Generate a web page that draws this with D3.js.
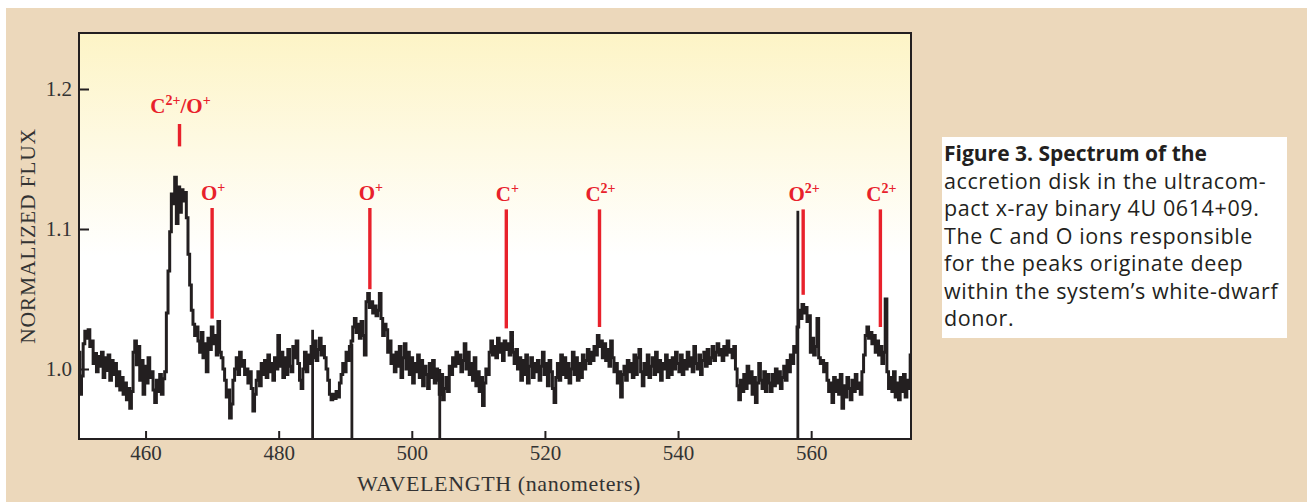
<!DOCTYPE html>
<html>
<head>
<meta charset="utf-8">
<script src="https://cdn.jsdelivr.net/npm/d3@7.9.0/dist/d3.min.js"></script>
<style>
  html, body { margin: 0; padding: 0; background: #fff; }
  svg { display: block; }
</style>
</head>
<body>
<svg id="chart" width="1307" height="502"></svg>
<script>
// spectrum sampled every 0.25 nm starting at 450 nm
const wlStart = 450;
const wlStep = 0.25;
const flux = [
  1.012, 0.982, 0.995, 1.018,  1.027, 1.022, 1.028, 1.016,  1.020, 1.004, 1.011, 0.998,
  1.009, 1.002, 1.012, 0.994,  1.008, 0.999, 1.010, 0.992,  1.006, 0.996, 1.004, 0.988,
  0.998, 0.985, 0.994, 0.982,  0.990, 0.978, 0.986, 0.972,  0.984, 1.012, 1.020, 1.003,
  1.016, 0.992, 1.006, 0.982,  1.002, 0.990, 1.008, 0.994,  0.998, 0.985, 0.976, 0.992,
  0.984, 0.996, 0.982, 0.993,  0.998, 1.040, 1.070, 1.098,  1.125, 1.118, 1.137, 1.104,
  1.130, 1.112, 1.128, 1.120,  1.126, 1.108, 1.082, 1.060,  1.042, 1.032, 1.024, 1.030,
  1.020, 1.012, 1.026, 1.008,  1.018, 0.998, 1.022, 1.014,  1.030, 1.018, 1.024, 1.010,
  1.034, 1.012, 1.008, 1.000,  0.992, 0.980, 0.985, 0.965,  0.975, 0.992, 1.000, 1.008,
  0.996, 1.012, 1.002, 1.006,  0.996, 1.000, 0.990, 0.998,  0.986, 0.970, 0.982, 0.992,
  0.998, 0.988, 1.004, 0.996,  1.006, 0.994, 1.010, 0.998,  1.004, 0.992, 1.008, 1.000,
  1.024, 1.002, 1.012, 0.994,  1.008, 0.996, 1.014, 1.002,  0.998, 1.016, 1.008, 1.020,
  1.004, 0.992, 0.986, 1.000,  1.012, 0.998, 1.010, 1.004,  1.016, 1.008, 1.020, 1.006,
  1.014, 1.022, 1.010, 1.016,  1.008, 1.000, 0.992, 0.982,  0.978, 0.982, 0.979, 0.984,
  0.980, 0.990, 0.996, 1.004,  0.998, 1.012, 1.006, 1.016,  1.020, 1.030, 1.036, 1.026,
  1.032, 1.022, 1.034, 1.024,  1.010, 1.048, 1.054, 1.044,  1.048, 1.040, 1.045, 1.038,
  1.042, 1.054, 1.036, 1.024,  1.032, 1.028, 1.012, 1.020,  1.004, 1.010, 0.998, 1.012,
  1.002, 1.016, 0.994, 1.008,  1.018, 1.000, 1.012, 0.996,  1.008, 0.990, 1.004, 0.998,
  1.010, 0.994, 1.006, 0.988,  1.002, 0.996, 0.986, 1.004,  0.994, 1.006, 0.990, 1.000,
  0.992, 0.982, 0.996, 0.978,  0.986, 0.994, 0.984, 1.002,  0.996, 1.008, 1.002, 1.012,
  1.004, 1.010, 0.998, 1.006,  1.018, 1.000, 1.012, 0.996,  1.004, 0.992, 1.008, 0.988,
  0.998, 0.984, 0.994, 0.974,  0.990, 1.000, 0.996, 1.012,  1.020, 1.010, 1.016, 1.008,
  1.022, 1.012, 1.018, 1.006,  1.020, 1.014, 1.018, 1.010,  1.026, 1.012, 1.004, 1.014,
  1.000, 1.008, 0.992, 1.006,  0.996, 1.010, 0.990, 1.002,  1.008, 0.994, 1.004, 0.998,
  1.006, 0.992, 1.002, 1.012,  0.996, 1.004, 0.988, 1.006,  0.998, 0.986, 0.976, 0.994,
  1.004, 0.992, 1.010, 0.996,  1.008, 0.994, 1.004, 0.990,  1.000, 1.012, 0.996, 1.008,
  0.992, 1.004, 0.994, 1.010,  1.000, 1.006, 1.014, 1.004,  1.012, 1.006, 1.016, 1.010,
  1.024, 1.016, 1.020, 1.008,  1.018, 1.006, 1.014, 1.002,  1.020, 1.008, 0.998, 1.004,
  0.990, 0.998, 0.980, 0.996,  1.002, 0.992, 1.006, 0.998,  1.004, 0.994, 1.010, 0.996,
  1.008, 1.014, 0.998, 0.988,  1.004, 0.996, 1.010, 0.994,  1.002, 1.008, 0.996, 1.012,
  0.998, 1.006, 0.992, 1.004,  1.000, 1.010, 0.994, 1.006,  0.996, 1.008, 1.000, 1.012,
  1.004, 0.998, 1.010, 0.996,  1.006, 1.000, 1.012, 1.002,  1.008, 0.998, 1.016, 1.004,
  1.000, 1.010, 0.996, 1.006,  1.012, 1.002, 1.014, 1.004,  1.008, 1.016, 1.006, 1.012,
  1.018, 1.010, 1.014, 1.006,  1.016, 1.010, 1.020, 1.012,  1.014, 1.008, 1.016, 1.000,
  0.988, 0.978, 0.992, 0.984,  0.996, 0.986, 1.002, 0.990,  0.998, 0.982, 0.994, 0.976,
  0.990, 1.004, 0.992, 0.986,  0.998, 0.984, 0.996, 0.990,  0.984, 0.996, 0.988, 1.000,
  0.990, 0.998, 0.986, 0.994,  1.002, 0.992, 1.006, 0.998,  1.010, 1.004, 1.016, 1.012,
  1.030, 1.042, 1.036, 1.046,  1.040, 1.044, 1.034, 1.038,  1.012, 1.022, 1.010, 1.016,
  1.036, 1.008, 1.004, 1.006,  0.998, 1.004, 0.992, 0.984,  0.990, 0.976, 0.994, 0.984,
  0.992, 0.982, 0.996, 0.972,  0.988, 0.980, 0.994, 0.986,  0.978, 0.992, 0.984, 0.996,
  0.986, 0.990, 0.982, 0.998,  1.010, 1.024, 1.030, 1.022,  1.026, 1.018, 1.024, 1.012,
  1.020, 1.010, 1.016, 1.004,  1.012, 1.050, 0.998, 0.986,  0.994, 0.984, 0.998, 0.980,
  0.990, 0.978, 0.994, 0.984,  0.996, 0.980, 0.992, 0.986,  1.010
];

// narrow spikes that run down off the bottom of the plot
const spikeWl = [485.1, 491.0, 504.2, 558.0];
const spikeTop = [1.028, 1.018, 1.000, 1.113];

// ion markers
const ionLabels = ['C{2+}/O{+}', 'O{+}', 'O{+}', 'C{+}', 'C{2+}', 'O{2+}', 'C{2+}'];
const ionWl = [465.1, 470.0, 493.7, 514.2, 528.2, 558.8, 570.4];
const ionTop = [1.175, 1.115, 1.115, 1.114, 1.114, 1.114, 1.114];
const ionBottom = [1.159, 1.036, 1.057, 1.029, 1.030, 1.053, 1.030];

const xTicks = [460, 480, 500, 520, 540, 560];
const yTicks = [1.0, 1.1, 1.2];

const captionLines = [
  'Figure 3. Spectrum of the',
  'accretion disk in the ultracom-',
  'pact x-ray binary 4U 0614+09.',
  'The C and O ions responsible',
  'for the peaks originate deep',
  'within the system\u2019s white-dwarf',
  'donor.'
];

const svg = d3.select('#chart');
const ink = '#231f20';
const red = '#e8212b';
const serif = '"Liberation Serif", "Times New Roman", serif';

// page background
svg.append('rect').attr('x', 6).attr('y', 8).attr('width', 1301).attr('height', 494).attr('fill', '#ecd8bb');

const pL = 79, pR = 911, pT = 33, pB = 439;
const x = d3.scaleLinear().domain([450, 575]).range([pL, pR]);
const y = d3.scaleLinear().domain([0.95, 1.24]).range([pB, pT]);

const defs = svg.append('defs');
const grad = defs.append('linearGradient').attr('id', 'bg').attr('x1', 0).attr('y1', 0).attr('x2', 0).attr('y2', 1);
grad.append('stop').attr('offset', '0%').attr('stop-color', '#fdf4c6');
grad.append('stop').attr('offset', '55%').attr('stop-color', '#ffffff');
grad.append('stop').attr('offset', '100%').attr('stop-color', '#ffffff');
defs.append('clipPath').attr('id', 'clip')
  .append('rect').attr('x', pL).attr('y', pT).attr('width', pR - pL).attr('height', pB - pT);

svg.append('rect').attr('x', pL).attr('y', pT).attr('width', pR - pL).attr('height', pB - pT)
  .attr('fill', 'url(#bg)');

const plot = svg.append('g').attr('clip-path', 'url(#clip)');

const spectrum = flux.map((f, i) => ({ wl: wlStart + i * wlStep, f }));
const line = d3.line().x(d => x(d.wl)).y(d => y(d.f)).curve(d3.curveStep);

plot.append('path').datum(spectrum)
  .attr('d', line)
  .attr('fill', 'none')
  .attr('stroke', ink)
  .attr('stroke-width', 3)
  .attr('stroke-linejoin', 'miter');

plot.selectAll('.spike').data(spikeWl).join('line')
  .attr('class', 'spike')
  .attr('x1', d => x(d)).attr('x2', d => x(d))
  .attr('y1', (d, i) => y(spikeTop[i]))
  .attr('y2', y(0.95) + 2)
  .attr('stroke', ink)
  .attr('stroke-width', 2.8);

// ion markers
svg.selectAll('.ion').data(ionWl).join('line')
  .attr('class', 'ion')
  .attr('x1', d => x(d)).attr('x2', d => x(d))
  .attr('y1', (d, i) => y(ionTop[i]))
  .attr('y2', (d, i) => y(ionBottom[i]))
  .attr('stroke', red)
  .attr('stroke-width', 3.4);

ionLabels.forEach((lab, i) => {
  const t = svg.append('text')
    .attr('x', x(ionWl[i]) + 1)
    .attr('y', y(ionTop[i]) - (i === 0 ? 11 : 8))
    .attr('text-anchor', 'middle')
    .attr('fill', red)
    .attr('font-family', serif)
    .attr('font-weight', 'bold')
    .attr('font-size', 21);
  const parts = [...lab.matchAll(/([^{]*)\{([^}]*)\}/g)];
  parts.forEach((p, k) => {
    t.append('tspan').attr('dy', k > 0 ? 8 : 0).text(p[1]);
    t.append('tspan').attr('dy', -8).attr('font-size', 14).text(p[2]);
  });
});

// axes
const xAxis = svg.append('g').attr('transform', `translate(0,${pB})`)
  .call(d3.axisBottom(x).tickValues(xTicks).tickSizeInner(-8).tickSizeOuter(0).tickPadding(6));
const yAxis = svg.append('g').attr('transform', `translate(${pL},0)`)
  .call(d3.axisLeft(y).tickValues(yTicks).tickFormat(d3.format('.1f')).tickSizeInner(-10).tickSizeOuter(0).tickPadding(7));

[xAxis, yAxis].forEach(g => {
  g.select('.domain').remove();
  g.selectAll('line').attr('stroke', ink).attr('stroke-width', 2);
  g.selectAll('text').attr('fill', '#333').attr('font-family', serif).attr('font-size', 21);
});

svg.append('rect').attr('x', pL).attr('y', pT).attr('width', pR - pL).attr('height', pB - pT)
  .attr('fill', 'none').attr('stroke', ink).attr('stroke-width', 2);

svg.append('text')
  .attr('transform', `translate(35,${(pT + pB) / 2}) rotate(-90)`)
  .attr('text-anchor', 'middle')
  .attr('fill', '#333')
  .attr('font-family', serif)
  .attr('font-size', 21.5)
  .attr('letter-spacing', 0.8)
  .text('NORMALIZED FLUX');

svg.append('text')
  .attr('x', 499).attr('y', 491)
  .attr('text-anchor', 'middle')
  .attr('fill', '#333')
  .attr('font-family', serif)
  .attr('font-size', 22)
  .attr('letter-spacing', 0.6)
  .text('WAVELENGTH (nanometers)');

// caption box
svg.append('rect').attr('x', 942).attr('y', 137).attr('width', 345).attr('height', 201).attr('fill', '#fff');
svg.append('g').selectAll('text').data(captionLines).join('text')
  .attr('x', 944)
  .attr('y', (d, i) => 161 + i * 27.5)
  .attr('fill', '#231f20')
  .attr('font-family', '"Open Sans", Lato, sans-serif')
  .attr('font-size', (d, i) => i === 0 ? 21 : 21.5)
  .attr('letter-spacing', (d, i) => i === 0 ? 0 : 0.6)
  .attr('font-weight', (d, i) => i === 0 ? 'bold' : 'normal')
  .text(d => d);
</script>
</body>
</html>
